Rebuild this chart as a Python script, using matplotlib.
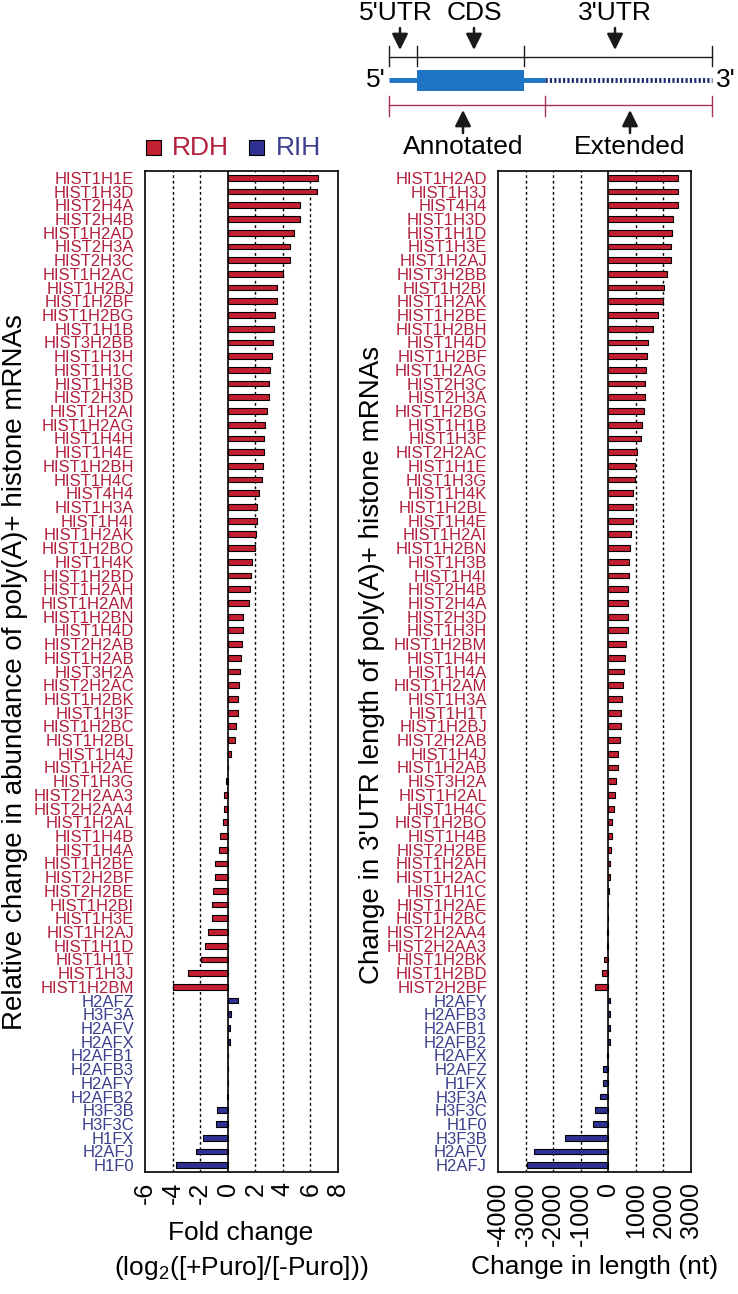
import numpy as np
import matplotlib
matplotlib.use("Agg")
import matplotlib.pyplot as plt
from matplotlib.patches import Rectangle

plt.rcParams['font.family'] = ['Liberation Sans', 'DejaVu Sans']
plt.rcParams['mathtext.fontset'] = 'custom'
plt.rcParams['mathtext.rm'] = 'Liberation Sans'

# ---------------- data (top -> bottom) ----------------
left_red_genes = ["HIST1H1E", "HIST1H3D", "HIST2H4A", "HIST2H4B", "HIST1H2AD", "HIST2H3A",
                  "HIST2H3C", "HIST1H2AC", "HIST1H2BJ", "HIST1H2BF", "HIST1H2BG", "HIST1H1B",
                  "HIST3H2BB", "HIST1H3H", "HIST1H1C", "HIST1H3B", "HIST2H3D", "HIST1H2AI",
                  "HIST1H2AG", "HIST1H4H", "HIST1H4E", "HIST1H2BH", "HIST1H4C", "HIST4H4",
                  "HIST1H3A", "HIST1H4I", "HIST1H2AK", "HIST1H2BO", "HIST1H4K", "HIST1H2BD",
                  "HIST1H2AH", "HIST1H2AM", "HIST1H2BN", "HIST1H4D", "HIST2H2AB", "HIST1H2AB",
                  "HIST3H2A", "HIST2H2AC", "HIST1H2BK", "HIST1H3F", "HIST1H2BC", "HIST1H2BL",
                  "HIST1H4J", "HIST1H2AE", "HIST1H3G", "HIST2H2AA3", "HIST2H2AA4", "HIST1H2AL",
                  "HIST1H4B", "HIST1H4A", "HIST1H2BE", "HIST2H2BF", "HIST2H2BE", "HIST1H2BI",
                  "HIST1H3E", "HIST1H2AJ", "HIST1H1D", "HIST1H1T", "HIST1H3J", "HIST1H2BM"]
left_red_vals = [6.52, 6.45, 5.27, 5.27, 4.78, 4.52, 4.52, 4.01, 3.55, 3.55, 3.45, 3.38,
                 3.26, 3.19, 3.07, 3.0, 3.0, 2.83, 2.73, 2.66, 2.61, 2.56, 2.49, 2.29,
                 2.10, 2.10, 2.03, 2.0, 1.74, 1.67, 1.64, 1.52, 1.14, 1.14, 1.04, 0.94,
                 0.92, 0.82, 0.77, 0.75, 0.60, 0.53, 0.24, 0.03, -0.15, -0.24, -0.27, -0.36,
                 -0.56, -0.65, -0.92, -0.94, -1.04, -1.11, -1.14, -1.45, -1.64, -1.96, -2.90, -3.96]
left_blue_genes = ["H2AFZ", "H3F3A", "H2AFV", "H2AFX", "H2AFB1", "H2AFB3", "H2AFY",
                   "H2AFB2", "H3F3B", "H3F3C", "H1FX", "H2AFJ", "H1F0"]
left_blue_vals = [0.72, 0.24, 0.19, 0.17, 0.02, 0.02, 0.0, -0.02, -0.75, -0.85, -1.79, -2.27, -3.72]

right_red_genes = ["HIST1H2AD", "HIST1H3J", "HIST4H4", "HIST1H3D", "HIST1H1D", "HIST1H3E",
                   "HIST1H2AJ", "HIST3H2BB", "HIST1H2BI", "HIST1H2AK", "HIST1H2BE", "HIST1H2BH",
                   "HIST1H4D", "HIST1H2BF", "HIST1H2AG", "HIST2H3C", "HIST2H3A", "HIST1H2BG",
                   "HIST1H1B", "HIST1H3F", "HIST2H2AC", "HIST1H1E", "HIST1H3G", "HIST1H4K",
                   "HIST1H2BL", "HIST1H4E", "HIST1H2AI", "HIST1H2BN", "HIST1H3B", "HIST1H4I",
                   "HIST2H4B", "HIST2H4A", "HIST2H3D", "HIST1H3H", "HIST1H2BM", "HIST1H4H",
                   "HIST1H4A", "HIST1H2AM", "HIST1H3A", "HIST1H1T", "HIST1H2BJ", "HIST2H2AB",
                   "HIST1H4J", "HIST1H2AB", "HIST3H2A", "HIST1H2AL", "HIST1H4C", "HIST1H2BO",
                   "HIST1H4B", "HIST2H2BE", "HIST1H2AH", "HIST1H2AC", "HIST1H1C", "HIST1H2AE",
                   "HIST1H2BC", "HIST2H2AA4", "HIST2H2AA3", "HIST1H2BK", "HIST1H2BD", "HIST2H2BF"]
right_red_vals = [2527, 2527, 2527, 2334, 2297, 2273, 2273, 2140, 2019, 1995, 1814, 1632,
                  1439, 1415, 1354, 1342, 1342, 1282, 1209, 1173, 1040, 975, 970, 895,
                  895, 883, 810, 774, 750, 738, 725, 713, 701, 701, 629, 592,
                  556, 532, 508, 460, 447, 411, 339, 339, 278, 242, 193, 145,
                  133, 109, 60, 48, 36, -24, -24, -60, -60, -145, -230, -484]
right_blue_genes = ["H2AFY", "H2AFB3", "H2AFB1", "H2AFB2", "H2AFX", "H2AFZ", "H1FX",
                    "H3F3A", "H3F3C", "H1F0", "H3F3B", "H2AFV", "H2AFJ"]
right_blue_vals = [48, 48, 48, 48, -48, -181, -205, -301, -470, -542, -1554, -2687, -2952]

left_ticks = [-6, -4, -2, 0, 2, 4, 6, 8]
left_grid = [-4, -2, 2, 4, 6]
right_ticks = [-4000, -3000, -2000, -1000, 0, 1000, 2000, 3000]
right_grid = [-3000, -2000, -1000, 1000, 2000]

RED = '#c21f30'
RED_TXT = '#b2203c'
BLUE = '#2e3192'
BLUE_TXT = '#3b3f8c'

W, H = 738, 1294
fig = plt.figure(figsize=(W / 100, H / 100), dpi=100)


def px(x, y):
    # pixel position (from top-left) -> figure fraction
    return x / W, 1 - y / H


def bar_panel(rect, red_genes, red_vals, blue_genes, blue_vals, ticks, grid):
    ax = fig.add_axes(rect)
    genes = red_genes + blue_genes
    vals = red_vals + blue_vals
    colors = [RED] * len(red_genes) + [BLUE] * len(blue_genes)
    n = len(genes)
    ypos = np.arange(n)[::-1]
    for g in grid:
        ax.axvline(g, color='black', lw=1.0, ls=(0, (2, 2)), zorder=1)
    ax.axvline(0, color='black', lw=1.2, zorder=3)
    ax.barh(ypos, vals, height=0.42, color=colors, edgecolor='black', linewidth=0.8, zorder=2)
    ax.set_ylim(-0.5, n - 0.5)
    ax.set_xlim(ticks[0], ticks[-1])
    ax.set_yticks(ypos)
    ax.set_yticklabels(genes, fontsize=12)
    for lab, c in zip(ax.get_yticklabels(), colors):
        lab.set_color(RED_TXT if c == RED else BLUE_TXT)
    ax.set_xticks(ticks)
    ax.set_xticklabels([str(t) for t in ticks], rotation=90, fontsize=18)
    ax.tick_params(axis='y', length=0, pad=8)
    ax.tick_params(axis='x', length=0, pad=7)
    for s in ax.spines.values():
        s.set_linewidth(1.2)
    return ax


l0, b0 = px(145, 1172)
ax1 = bar_panel([l0, b0, 193 / W, 1001 / H], left_red_genes, left_red_vals,
                left_blue_genes, left_blue_vals, left_ticks, left_grid)
l1, _ = px(498, 1172)
ax2 = bar_panel([l1, b0, 193 / W, 1001 / H], right_red_genes, right_red_vals,
                right_blue_genes, right_blue_vals, right_ticks, right_grid)

# axis titles
fig.text(*px(15, 672), "Relative change in abundance of poly(A)+ histone mRNAs",
         rotation=90, ha='center', va='center', fontsize=20)
fig.text(*px(372, 665), "Change in 3'UTR length of poly(A)+ histone mRNAs",
         rotation=90, ha='center', va='center', fontsize=20)
fig.text(*px(241, 1233), "Fold change", ha='center', va='center', fontsize=19)
fig.text(*px(241, 1268), r"(log$_{\mathregular{2}}$([+Puro]/[-Puro]))",
         ha='center', va='center', fontsize=19)
fig.text(*px(595, 1267), "Change in length (nt)", ha='center', va='center', fontsize=19)

# overlay in pixel coordinates for legend and schematic
ov = fig.add_axes([0, 0, 1, 1], facecolor='none')
ov.set_xlim(0, W)
ov.set_ylim(H, 0)
ov.axis('off')

# legend
ov.add_patch(Rectangle((146, 140), 15, 15, facecolor=RED, edgecolor='black', lw=0.8))
ov.text(172, 148, "RDH", color=RED_TXT, fontsize=19, va='center', ha='left')
ov.add_patch(Rectangle((249, 140), 15, 15, facecolor=BLUE, edgecolor='black', lw=0.8))
ov.text(276, 148, "RIH", color=BLUE_TXT, fontsize=19, va='center', ha='left')

# transcript schematic
LBLUE = '#1f74c4'
PINK = '#a8325e'
arrow = dict(arrowstyle='-|>,head_width=0.4,head_length=0.8', color='#1a1a1a',
             lw=1.8, mutation_scale=12, shrinkA=0, shrinkB=0)
for x, lab in [(400, "5'UTR"), (474, "CDS"), (615, "3'UTR")]:
    ov.text(x if lab != "5'UTR" else 396, 13, lab, fontsize=19, ha='center', va='center')
    ov.annotate('', xy=(x, 50), xytext=(x, 28), arrowprops=arrow)
ov.plot([389, 712], [57, 57], color='#1a1a1a', lw=1.0)
for x in [389, 417, 524, 712]:
    ov.plot([x, x], [46, 66], color='#1a1a1a', lw=1.0)
ov.text(376, 80, "5'", fontsize=19, ha='center', va='center')
ov.text(726, 80, "3'", fontsize=19, ha='center', va='center')
ov.plot([389, 545], [80, 80], color=LBLUE, lw=3.5, solid_capstyle='butt')
ov.add_patch(Rectangle((417, 70), 107, 21, facecolor=LBLUE, edgecolor='none'))
ov.plot([545, 712], [80, 80], color='#1b2a6e', lw=3.5, ls=(0, (0.45, 0.45)))
ov.plot([389, 712], [105, 105], color=PINK, lw=1.0)
for x in [389, 545, 712]:
    ov.plot([x, x], [96, 116], color=PINK, lw=1.0)
for x, lab in [(463, "Annotated"), (630, "Extended")]:
    ov.annotate('', xy=(x, 110), xytext=(x, 133), arrowprops=arrow)
    ov.text(x, 147, lab, fontsize=19, ha='center', va='center')

fig.savefig("out.png", dpi=100)
